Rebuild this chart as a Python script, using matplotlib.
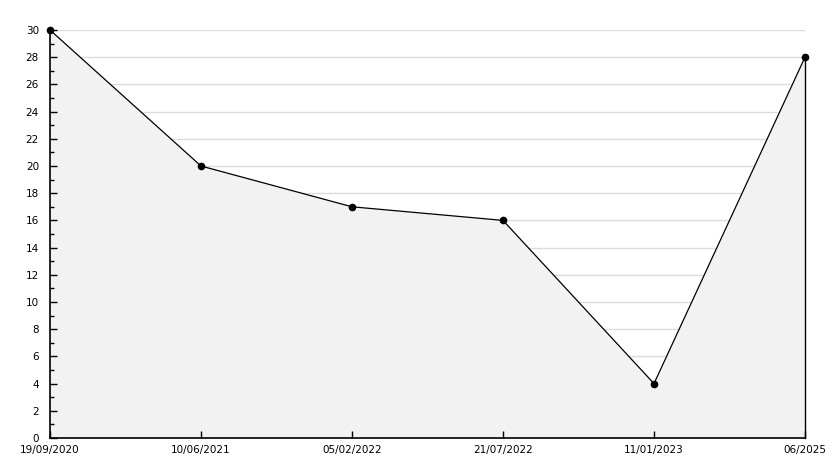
import matplotlib
matplotlib.use("Agg")
import matplotlib.pyplot as plt
from matplotlib.ticker import MultipleLocator

dates = ["19/09/2020", "10/06/2021", "05/02/2022", "21/07/2022", "11/01/2023", "06/2025"]
values = [30, 20, 17, 16, 4, 28]

W, H = 834, 468
fig = plt.figure(figsize=(W / 100, H / 100), dpi=100)
ax = fig.add_axes([50 / W, 30 / H, (805 - 50) / W, (438 - 30) / H])

x = list(range(len(dates)))
ax.set_xlim(0, len(dates) - 1)
ax.set_ylim(0, 30)
ax.set_xticks(x)
ax.set_xticklabels(dates)
ax.yaxis.set_major_locator(MultipleLocator(2))
ax.yaxis.set_minor_locator(MultipleLocator(1))

# horizontal grid lines sit behind the filled area
gy = [t for t in ax.get_yticks() if 0 < t <= 30]
ax.hlines(gy, 0, len(dates) - 1, colors="#dcdcdc", lw=1, zorder=0.5)
ax.fill_between(x, values, 0, color="#f2f2f2", linewidth=0, zorder=1)
# right edge of the filled area
ax.plot([x[-1], x[-1]], [0, values[-1]], color="black", lw=1, zorder=3, clip_on=False)
ax.plot(x, values, color="black", lw=0.9, marker="o", markersize=4.5,
        zorder=4, clip_on=False)

for s in ["top", "right"]:
    ax.spines[s].set_visible(False)
for s in ["left", "bottom"]:
    ax.spines[s].set_linewidth(1.2)
    ax.spines[s].set_zorder(5)

ax.tick_params(axis="y", which="major", direction="in", length=5, width=1, labelsize=7.5, pad=8)
ax.tick_params(axis="y", which="minor", direction="in", length=3, width=1)
ax.tick_params(axis="x", direction="in", length=5, width=1, labelsize=7.5, pad=5)

fig.savefig("out.png", dpi=100, facecolor="white")
